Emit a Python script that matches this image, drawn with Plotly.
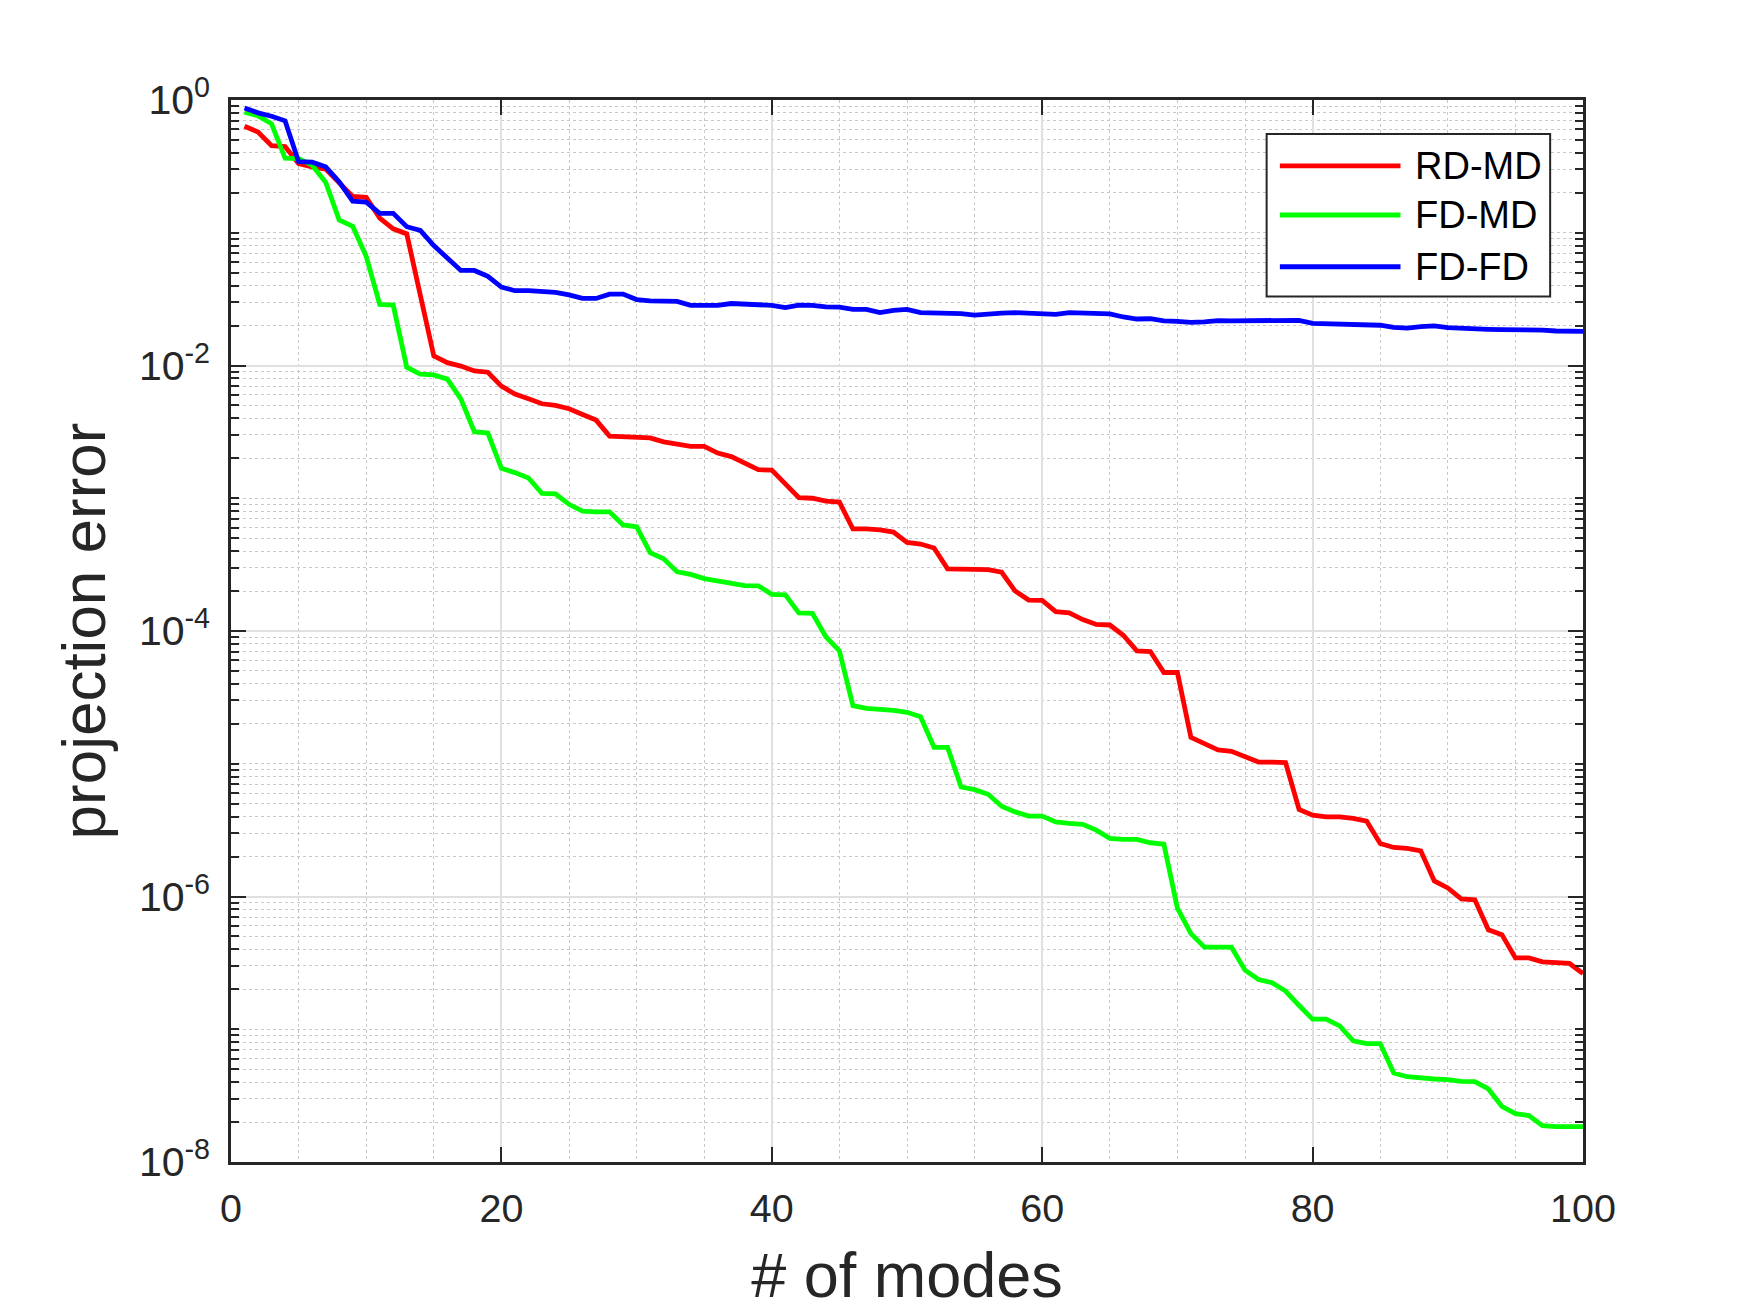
import plotly.graph_objects as go

# ---------------- data ----------------
modes = list(range(1, 101))

series_names = ["RD-MD", "FD-MD", "FD-FD"]
series_colors = ["#ff0000", "#00ff00", "#0000ff"]

rd_md = [
    0.635, 0.573, 0.453, 0.446, 0.332, 0.313, 0.302, 0.235, 0.188, 0.185,
    0.129, 0.107, 0.098, 0.034, 0.0118, 0.0105, 0.0099, 0.0091, 0.0089, 0.0070,
    0.0061, 0.00562, 0.00515, 0.00500, 0.00472, 0.00428, 0.00388, 0.00294, 0.00289, 0.00289,
    0.00285, 0.00266, 0.00258, 0.00246, 0.00246, 0.00219, 0.00206, 0.00182, 0.00164, 0.00163,
    0.00127, 0.00101, 0.00100, 0.000950, 0.000935, 0.000587, 0.000587, 0.000578, 0.000556, 0.000465,
    0.000452, 0.000422, 0.000294, 0.000294, 0.000294, 0.000290, 0.000277, 0.000200, 0.000171, 0.000170,
    0.000140, 0.000137, 0.000122, 0.000112, 0.000111, 9.29e-05, 7.08e-05, 7.00e-05, 4.87e-05, 4.87e-05,
    1.58e-05, 1.43e-05, 1.27e-05, 1.24e-05, 1.14e-05, 1.03e-05, 1.03e-05, 1.02e-05, 4.52e-06, 4.10e-06,
    3.98e-06, 3.98e-06, 3.87e-06, 3.69e-06, 2.51e-06, 2.34e-06, 2.30e-06, 2.21e-06, 1.31e-06, 1.16e-06,
    9.60e-07, 9.44e-07, 5.62e-07, 5.16e-07, 3.45e-07, 3.45e-07, 3.22e-07, 3.16e-07, 3.13e-07, 2.63e-07,
]

fd_md = [
    0.81, 0.76, 0.662, 0.364, 0.362, 0.323, 0.24, 0.125, 0.112, 0.0664,
    0.0288, 0.0285, 0.0097, 0.0086, 0.0085, 0.0079, 0.0056, 0.00317, 0.0031, 0.00168,
    0.00156, 0.00142, 0.00109, 0.00108, 0.00090, 0.00080, 0.00079, 0.00079, 0.00063, 0.00061,
    0.000389, 0.000350, 0.000279, 0.000267, 0.000248, 0.000238, 0.000228, 0.000220, 0.000219, 0.000189,
    0.000187, 0.000137, 0.000136, 9.05e-05, 7.08e-05, 2.74e-05, 2.61e-05, 2.58e-05, 2.52e-05, 2.44e-05,
    2.26e-05, 1.33e-05, 1.33e-05, 6.68e-06, 6.38e-06, 5.89e-06, 4.79e-06, 4.34e-06, 4.03e-06, 4.03e-06,
    3.65e-06, 3.55e-06, 3.50e-06, 3.16e-06, 2.74e-06, 2.69e-06, 2.69e-06, 2.54e-06, 2.48e-06, 8.18e-07,
    5.25e-07, 4.15e-07, 4.15e-07, 4.15e-07, 2.79e-07, 2.37e-07, 2.24e-07, 1.94e-07, 1.51e-07, 1.19e-07,
    1.19e-07, 1.06e-07, 8.18e-08, 7.80e-08, 7.80e-08, 4.68e-08, 4.39e-08, 4.27e-08, 4.22e-08, 4.17e-08,
    4.05e-08, 4.03e-08, 3.55e-08, 2.62e-08, 2.31e-08, 2.24e-08, 1.88e-08, 1.85e-08, 1.85e-08, 1.85e-08,
]

fd_fd = [
    0.87, 0.80, 0.754, 0.697, 0.343, 0.340, 0.314, 0.242, 0.173, 0.170,
    0.140, 0.140, 0.111, 0.104, 0.080, 0.064, 0.052, 0.052, 0.047, 0.039,
    0.0366, 0.0366, 0.0360, 0.0356, 0.0340, 0.0320, 0.0320, 0.0345, 0.0345, 0.0314,
    0.0307, 0.0303, 0.0304, 0.0284, 0.0283, 0.0284, 0.0293, 0.0290, 0.0289, 0.0284,
    0.0273, 0.0285, 0.0284, 0.0276, 0.0275, 0.0265, 0.0265, 0.0250, 0.0260, 0.0265,
    0.0250, 0.0250, 0.0247, 0.0246, 0.0240, 0.0245, 0.0248, 0.0250, 0.0249, 0.0244,
    0.0243, 0.0250, 0.0247, 0.0245, 0.0245, 0.0232, 0.0224, 0.0225, 0.0217, 0.0215,
    0.0211, 0.0213, 0.0218, 0.0217, 0.0217, 0.0218, 0.0220, 0.0221, 0.0219, 0.0208,
    0.0207, 0.0206, 0.0203, 0.0202, 0.0201, 0.0194, 0.0191, 0.0196, 0.0199, 0.0193,
    0.0190, 0.0187, 0.0187, 0.0186, 0.0186, 0.0187, 0.0185, 0.0182, 0.0182, 0.0181,
]

series_values = [rd_md, fd_md, fd_fd]

x_ticks = [0, 20, 40, 60, 80, 100]
y_ticks = [1e0, 1e-2, 1e-4, 1e-6, 1e-8]
y_tick_labels = ["10<sup>0</sup>", "10<sup>-2</sup>", "10<sup>-4</sup>",
                 "10<sup>-6</sup>", "10<sup>-8</sup>"]

x_title = "# of modes"
y_title = "projection error"

# ---------------- styling ----------------
FONT = "Liberation Sans, Arial, Helvetica, sans-serif"
AX = "#262626"
MAJOR_GRID = "#e0e0e0"
MINOR_GRID = "#c8c8c8"

y_minor = []
for e in range(-8, 0):
    for k in range(1, 10):
        v = k * 10.0 ** e
        if k == 1 and e % 2 == 0:
            continue
        y_minor.append(v)

fig = go.Figure()
for name, color, vals in zip(series_names, series_colors, series_values):
    fig.add_trace(go.Scatter(x=modes, y=vals, mode="lines", name=name,
                             line=dict(color=color, width=4.8), showlegend=False))

fig.update_layout(
    width=1750, height=1313,
    margin=dict(l=223, r=175, t=92, b=159),
    paper_bgcolor="white", plot_bgcolor="white",
    font=dict(family=FONT, color=AX, size=39),
)

fig.update_xaxes(
    range=[0, 100], tickmode="array", tickvals=x_ticks,
    ticks="inside", ticklen=15, tickwidth=2, tickcolor=AX,
    showline=True, linecolor=AX, linewidth=2.5, mirror="ticks",
    showgrid=True, gridcolor=MAJOR_GRID, gridwidth=1.5, zeroline=False,
    tickfont=dict(size=39.5, color=AX, family=FONT),
    ticklabelstandoff=10,
    minor=dict(dtick=5, tick0=0, showgrid=True, gridcolor=MINOR_GRID,
               griddash="dot", gridwidth=1.3, ticks=""),
    title=dict(text=x_title, font=dict(size=63, color=AX, family=FONT), standoff=24),
)

fig.update_yaxes(
    type="log", range=[-8, 0], tickmode="array", tickvals=y_ticks, ticktext=y_tick_labels,
    ticks="inside", ticklen=15, tickwidth=2, tickcolor=AX,
    showline=True, linecolor=AX, linewidth=2.5, mirror="ticks",
    showgrid=True, gridcolor=MAJOR_GRID, gridwidth=1.5, zeroline=False,
    tickfont=dict(size=41, color=AX, family=FONT),
    ticklabelstandoff=10,
    minor=dict(tickmode="array", tickvals=y_minor, showgrid=True, gridcolor=MINOR_GRID,
               griddash="dot", gridwidth=1.3, ticks="inside", ticklen=8,
               tickwidth=2, tickcolor=AX),
    title=dict(text=y_title, font=dict(size=62, color=AX, family=FONT), standoff=14),
)

# ---------------- legend (drawn box, like MATLAB) ----------------
leg_x0, leg_x1 = 0.766, 0.9757
leg_y0, leg_y1 = 0.815, 0.968
line_x0, line_x1 = 0.7758, 0.865
text_x = 0.8746
row_y = [0.938, 0.8917, 0.843]

fig.add_shape(type="rect", xref="paper", yref="paper",
              x0=leg_x0, x1=leg_x1, y0=leg_y0, y1=leg_y1,
              line=dict(color=AX, width=2), fillcolor="white", layer="above")
for name, color, yy in zip(series_names, series_colors, row_y):
    fig.add_shape(type="line", xref="paper", yref="paper",
                  x0=line_x0, x1=line_x1, y0=yy, y1=yy,
                  line=dict(color=color, width=4.8), layer="above")
    fig.add_annotation(xref="paper", yref="paper", x=text_x, y=yy, text=name,
                       showarrow=False, xanchor="left", yanchor="middle",
                       font=dict(size=38, color="black", family=FONT))

fig.write_html("out.html")
